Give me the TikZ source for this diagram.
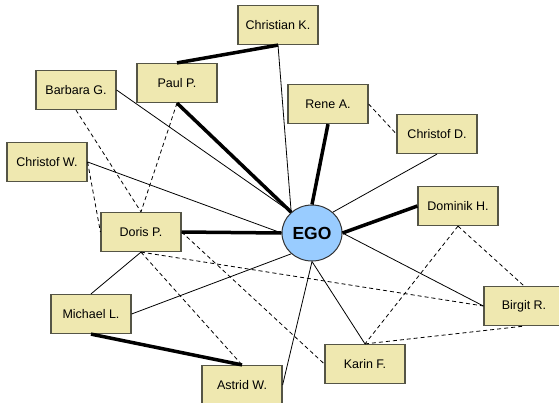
\documentclass[tikz,border=0pt]{standalone}
\usepackage{fontspec}
\setmainfont{Liberation Sans}
\usetikzlibrary{shapes, positioning}

\definecolor{boxfill}{RGB}{239,232,176}
\definecolor{boxline}{RGB}{85,85,70}
\definecolor{egofill}{RGB}{153,204,255}

\begin{document}
\begin{tikzpicture}[x=1pt, y=-1pt]

\tikzstyle{person} = [draw=boxline, fill=boxfill, shape=rectangle, minimum height=39pt, minimum width=80pt, line width=1.2pt, inner sep=0pt, font=\fontsize{12.5}{15}\selectfont]
\tikzstyle{ego} = [draw=black!80, fill=egofill, shape=ellipse, minimum height=56pt, minimum width=60pt, line width=1pt, inner sep=0pt, font=\fontsize{17.5}{20}\selectfont\bfseries]
\tikzstyle{weak} = [line width=0.8pt]
\tikzstyle{strong} = [line width=3.5pt]
\tikzstyle{loose} = [line width=0.8pt, dash pattern=on 4pt off 3pt]

\useasboundingbox (0,0) rectangle (559,402);

%Creating Persons
\node [ego] at (312,233) (ego) {EGO};
\node [person] at (278,25) (christian) {Christian K.};
\node [person] at (177,83) (paul) {Paul P.};
\node [person] at (76,90) (barbara) {Barbara G.};
\node [person] at (47,162) (christofw) {Christof W.};
\node [person] at (328,104) (rene) {Rene A.};
\node [person] at (437,134) (christofd) {Christof D.};
\node [person] at (458,206) (dominik) {Dominik H.};
\node [person] at (141,232) (doris) {Doris P.};
\node [person] at (91,314) (michael) {Michael L.};
\node [person] at (242,385) (astrid) {Astrid W.};
\node [person] at (524,306) (birgit) {Birgit R.};
\node [person] at (365,364) (karin) {Karin F.};

%Ties to EGO
\draw[weak] (christian.south) -- (ego.135);
\draw[strong] (paul.south) -- (ego.135);
\draw[weak] (barbara.east) -- (ego.135);
\draw[weak] (christofw.east) -- (ego.west);
\draw[strong] (doris.east) -- (ego.west);
\draw[weak] (michael.east) -- (ego.225);
\draw[weak] (astrid.east) -- (ego.south);
\draw[weak] (karin.north) -- (ego.south);
\draw[weak] (birgit.west) -- (ego.east);
\draw[strong] (dominik.west) -- (ego.east);
\draw[weak] (christofd.south) -- (ego.45);
\draw[strong] (rene.south) -- (ego.north);

%Ties between others
\draw[strong] (paul.north) -- (christian.south);
\draw[weak] (doris.south) -- (michael.north);
\draw[strong] (michael.south) -- (astrid.north);
\draw[loose] (rene.east) -- (christofd.west);
\draw[loose] (barbara.south) -- (doris.north);
\draw[loose] (paul.south) -- (doris.north);
\draw[loose] (christofw.east) -- (doris.west);
\draw[loose] (doris.south) -- (birgit.west);
\draw[loose] (doris.south) -- (astrid.north);
\draw[loose] (doris.east) -- (karin.west);
\draw[loose] (dominik.south) -- (karin.north);
\draw[loose] (dominik.south) -- (birgit.north);
\draw[loose] (karin.north) -- (birgit.south);

\end{tikzpicture}
\end{document}
